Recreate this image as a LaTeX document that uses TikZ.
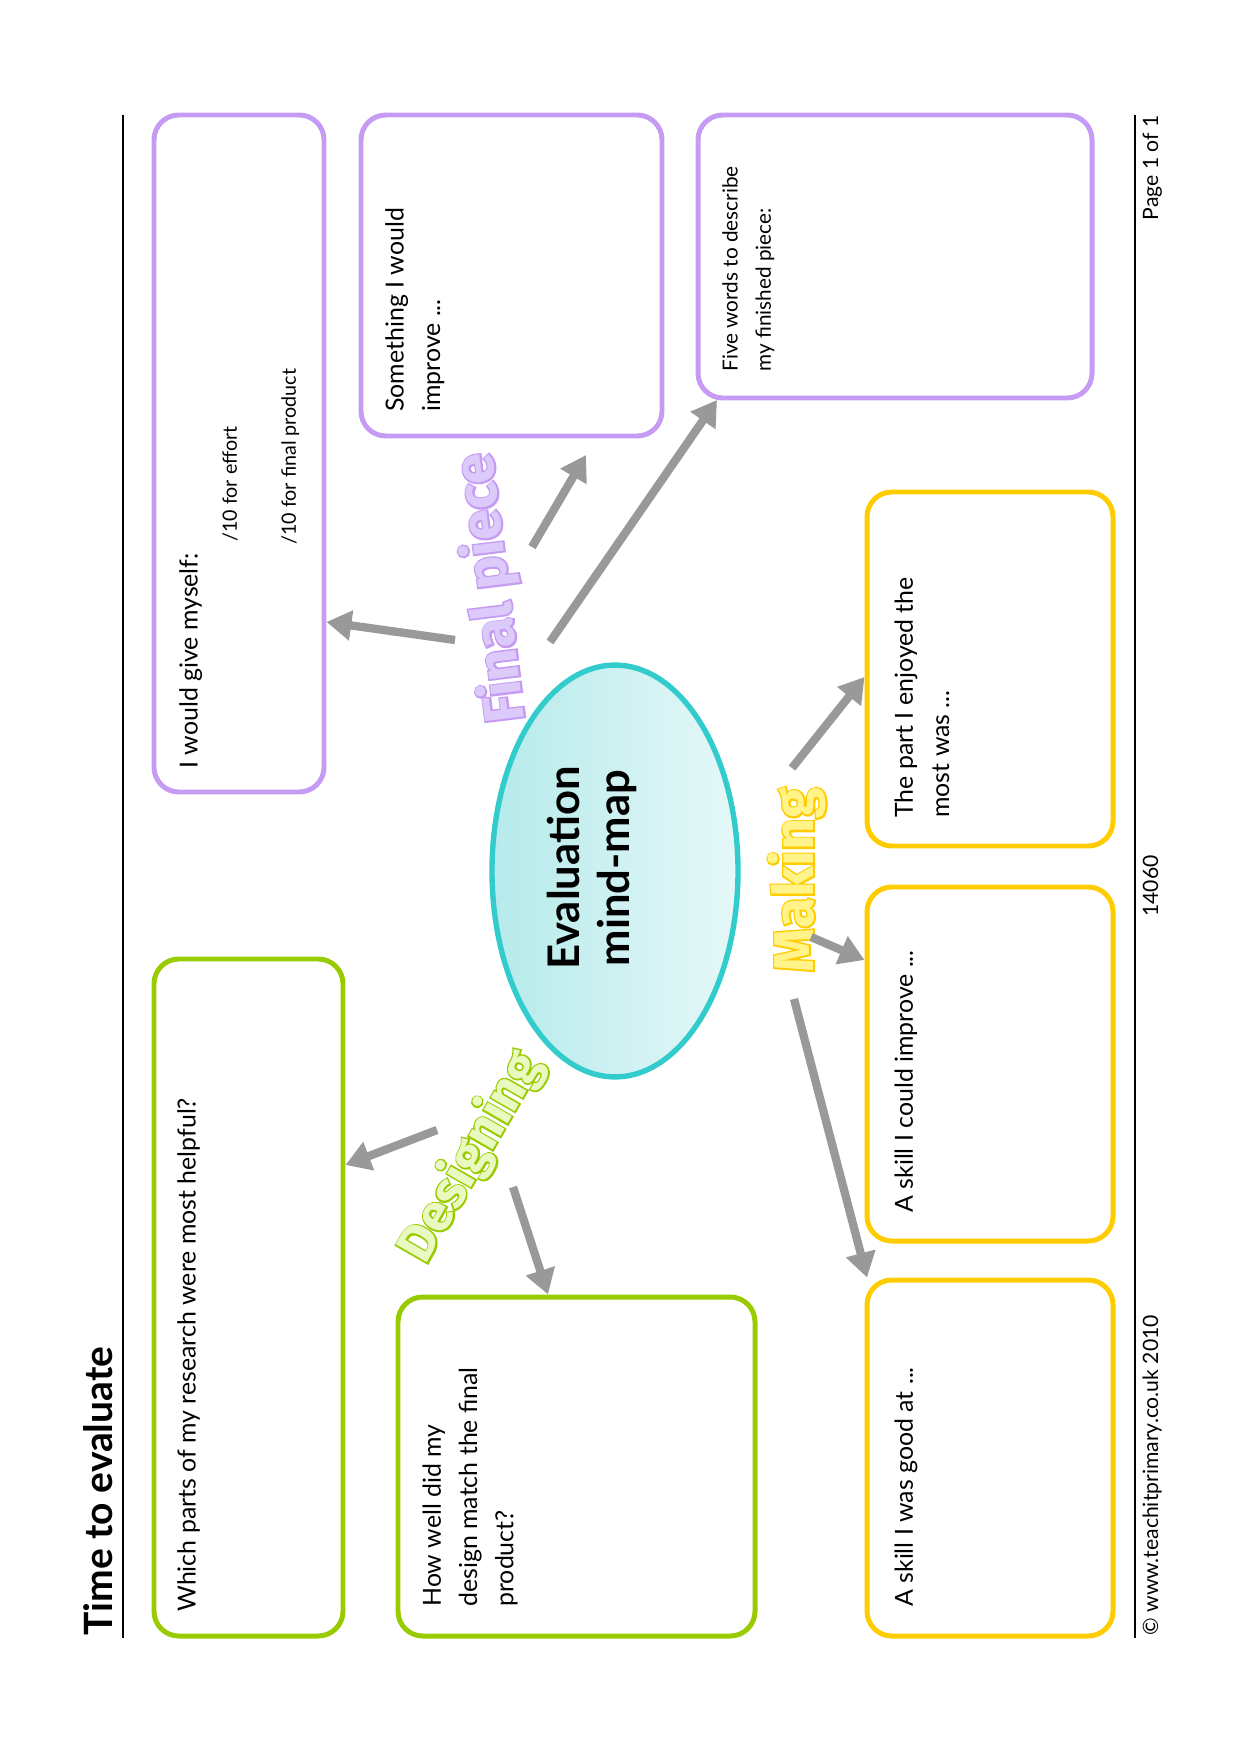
\documentclass[tikz,border=0pt]{standalone}
\usepackage{fontspec}
\setmainfont{Lato}
\newfontfamily\artfont{Fira Sans}
\newfontface\artline{Fira Sans Bold}[FakeBold=6]
\usepackage{xcolor}
\usepackage{tikz}
\usetikzlibrary{arrows.meta,shapes.geometric,fit}
\definecolor{tepurple}{HTML}{C59BF3}
\definecolor{tepurplelt}{HTML}{DCCBFA}
\definecolor{tegreen}{HTML}{99CC00}
\definecolor{tegreenlt}{HTML}{EAF8C2}
\definecolor{teyellow}{HTML}{FFCC00}
\definecolor{teyellowlt}{HTML}{FFF38A}
\definecolor{teteal}{HTML}{33CCCC}
\definecolor{tecyandk}{HTML}{B6EAEB}
\definecolor{tecyanlt}{HTML}{E6F8F8}
\definecolor{tegrey}{HTML}{999999}

\begin{document}
\begin{tikzpicture}[x=0.16949mm,y=-0.16949mm,
    pbox/.style={draw=tepurple,line width=2.4pt,rounded corners=4.2mm,inner sep=0pt},
    gbox/.style={draw=tegreen,line width=2.4pt,rounded corners=4.2mm,inner sep=0pt},
    ybox/.style={draw=teyellow,line width=2.4pt,rounded corners=4.2mm,inner sep=0pt},
    boxtext/.style={rotate=90,anchor=north west,inner sep=0pt,align=left,font=\fontsize{12}{17.5}\selectfont},
    smalltext/.style={boxtext,font=\fontsize{10}{16}\selectfont},
    footer/.style={rotate=90,inner sep=0pt,font=\fontsize{10.2}{12}\selectfont},
    wordart/.style={inner sep=0pt,font=\artfont\bfseries\fontsize{27}{30}\selectfont},
    wordline/.style={inner sep=0pt,font=\artline\fontsize{27}{30}\selectfont},
    link/.style={draw=tegrey,line width=4pt,-{Triangle[length=12pt,width=14pt]}}]
  \useasboundingbox (0,0) rectangle (1239,1754);

  % header and footer
  \node[rotate=90,anchor=base west,inner sep=0pt,font=\bfseries\fontsize{18.8}{22}\selectfont] (head) at (112,1636) {Time to evaluate};
  \draw[line width=0.6pt] (123,115) -- (123,1638);
  \draw[line width=0.6pt] (1135,115) -- (1135,1638);
  \node[footer,anchor=base west] (copy) at (1158,1636) {© www.teachitprimary.co.uk 2010};
  \node[footer,anchor=base] (code) at (1158,886) {14060};
  \node[footer,anchor=base east] (page) at (1158,115) {Page 1 of 1};

  % boxes
  \node[pbox,fit={(154,115) (324,792)}] (give) {};
  \node[pbox,fit={(361,115) (662,436)}] (improve) {};
  \node[pbox,fit={(698,115) (1092,398)}] (words) {};
  \node[gbox,fit={(154,959) (343,1636)}] (research) {};
  \node[gbox,fit={(398,1297) (755,1636)}] (match) {};
  \node[ybox,fit={(867,492) (1113,846)}] (enjoyed) {};
  \node[ybox,fit={(867,887) (1113,1241)}] (couldimp) {};
  \node[ybox,fit={(867,1280) (1113,1636)}] (goodat) {};

  \node[boxtext] (givet) at (179,769) {I would give myself:};
  \node[boxtext,font=\fontsize{9.5}{12}\selectfont] (effort) at (222,542) {/10 for effort};
  \node[boxtext,font=\fontsize{9.5}{12}\selectfont] (product) at (281,545) {/10 for final product};
  \node[boxtext] (improvet) at (385,412) {Something I would\\improve ...};
  \node[smalltext] (wordst) at (722,372) {Five words to describe\\my finished piece:};
  \node[boxtext] (researcht) at (177,1612) {Which parts of my research were most helpful?};
  \node[boxtext] (matcht) at (422,1607) {How well did my\\design match the final\\product?};
  \node[boxtext] (enjoyedt) at (894,818) {The part I enjoyed the\\most was ...};
  \node[boxtext] (couldimpt) at (894,1213) {A skill I could improve ...};
  \node[boxtext] (goodatt) at (894,1607) {A skill I was good at ...};

  % centre
  \node[ellipse,draw=teteal,line width=2.6pt,left color=tecyandk,right color=tecyanlt,
        minimum width=41.7mm,minimum height=69.8mm,inner sep=0pt] (centre) at (615,871) {};
  \node[rotate=90,align=center,inner sep=0pt,font=\bfseries\fontsize{21}{24}\selectfont] (centret) at (592,868) {Evaluation\\mind-map};

  % branch labels: outline underneath, light fill on top
  \node[wordline,rotate=97,text=tepurple] (finalo) at (492,588) {Final piece};
  \node[wordart,rotate=97,text=tepurplelt] (final) at (492,588) {Final piece};
  \node[wordline,rotate=60,text=tegreen,font=\artline\fontsize{25}{28}\selectfont] (designo) at (471,1157) {Designing};
  \node[wordart,rotate=60,text=tegreenlt,font=\artfont\bfseries\fontsize{25}{28}\selectfont] (design) at (471,1157) {Designing};
  \node[wordline,rotate=90,text=teyellow] (makingo) at (797,880) {Making};
  \node[wordart,rotate=90,text=teyellowlt] (making) at (797,880) {Making};

  % arrows
  \coordinate (f1) at (455,640);
  \coordinate (f2) at (532,547);
  \coordinate (f3) at (550,642);
  \coordinate (d1) at (437,1130);
  \coordinate (d2) at (513,1187);
  \coordinate (m1) at (792,768);
  \coordinate (m2) at (811,937);
  \coordinate (m3) at (794,999);
  \draw[link] (f1) -- (give.east |- 0,622);
  \draw[link] (f2) -- (586,455);
  \draw[link] (f3) -- (717,400);
  \draw[link] (d1) -- (research.east |- 0,1165);
  \draw[link] (d2) -- (match.north -| 548,0);
  \draw[link] (m1) -- (enjoyed.west |- 0,677);
  \draw[link] (m2) -- (couldimp.west |- 0,960);
  \draw[link] (m3) -- (goodat.north -| 867,0);
\end{tikzpicture}
\end{document}
